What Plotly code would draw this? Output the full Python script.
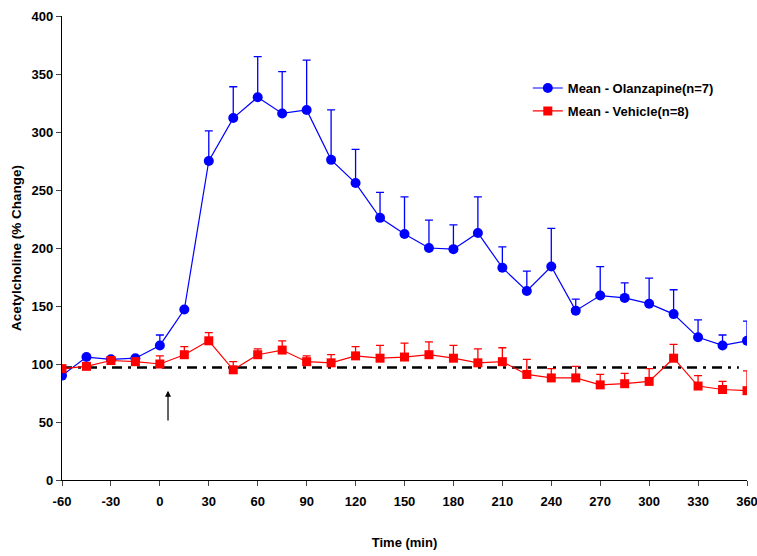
import plotly.graph_objects as go

time = [-60, -45, -30, -15, 0, 15, 30, 45, 60, 75, 90, 105, 120, 135, 150, 165, 180,
        195, 210, 225, 240, 255, 270, 285, 300, 315, 330, 345, 360]

olz_mean = [90, 106, 104, 105, 116, 147, 275, 312, 330, 316, 319, 276, 256, 226, 212, 200, 199,
            213, 183, 163, 184, 146, 159, 157, 152, 143, 123, 116, 120]
olz_err = [0, 0, 0, 0, 9, 0, 26, 27, 35, 36, 43, 43, 29, 22, 32, 24, 21,
           31, 18, 17, 33, 10, 25, 13, 22, 21, 15, 9, 17]

veh_mean = [96, 98, 103, 102, 100, 108, 120, 95, 108, 112, 102, 101, 107, 105, 106, 108, 105,
            101, 102, 91, 88, 88, 82, 83, 85, 105, 81, 78, 77]
veh_err = [0, 0, 0, 0, 7, 7, 7, 7, 5, 8, 5, 7, 8, 11, 12, 11, 11,
           12, 12, 13, 8, 10, 9, 9, 11, 12, 9, 7, 17]

baseline_x = [-60, 355]
baseline_y = [97, 97]

arrow_x = 5
arrow_tail_y = 50
arrow_head_y = 77

x_ticks = list(range(-60, 361, 30))
x_tick_labels = [str(v) for v in x_ticks]  # plain hyphen minus, as in the original
y_ticks = list(range(0, 401, 50))

FONT = "Arial, Liberation Sans, sans-serif"

fig = go.Figure()

fig.add_trace(go.Scatter(
    x=baseline_x, y=baseline_y, mode="lines", showlegend=False, hoverinfo="skip",
    line=dict(color="black", width=2.5, dash="10px,6px,3px,6px"),
))

fig.add_trace(go.Scatter(
    x=time, y=olz_mean, mode="lines+markers", name="Mean - Olanzapine(n=7)",
    legendgroup="olz",
    line=dict(color="#0000FF", width=1.2),
    marker=dict(symbol="circle", size=10, color="#0000FF"),
    error_y=dict(type="data", array=olz_err, arrayminus=[0] * len(olz_err),
                 color="#0000FF", thickness=1.3, width=4),
))

fig.add_trace(go.Scatter(
    x=time, y=veh_mean, mode="lines+markers", name="Mean - Vehicle(n=8)",
    legendgroup="veh",
    line=dict(color="#FF0000", width=1.2),
    marker=dict(symbol="square", size=9, color="#FF0000"),
    error_y=dict(type="data", array=veh_err, arrayminus=[0] * len(veh_err),
                 color="#FF0000", thickness=1.3, width=4),
))

fig.add_annotation(
    x=arrow_x, y=arrow_head_y, ax=arrow_x, ay=arrow_tail_y,
    xref="x", yref="y", axref="x", ayref="y",
    text="", showarrow=True, arrowhead=2, arrowsize=1, arrowwidth=1.2, arrowcolor="black",
)

fig.update_layout(
    width=757, height=556,
    margin=dict(l=62, r=10, t=16, b=76),
    paper_bgcolor="white", plot_bgcolor="white",
    font=dict(family=FONT, size=13, color="black", weight="bold"),
    legend=dict(x=0.68, y=0.877, xanchor="left", yanchor="top",
                bgcolor="rgba(0,0,0,0)", font=dict(size=13, weight="bold"),
                tracegroupgap=3),
    xaxis=dict(range=[-60, 360], tickvals=x_ticks, ticktext=x_tick_labels,
               ticks="outside", ticklen=5, automargin=False, ticklabelstandoff=4,
               ticklabeloverflow="allow",
               showline=True, linecolor="black", linewidth=1.2, showgrid=False, zeroline=False,
               tickfont=dict(size=13, weight="bold"),
               title=dict(text="Time (min)", standoff=30, font=dict(size=13, weight="bold"))),
    yaxis=dict(range=[0, 400], tickvals=y_ticks, ticks="outside", ticklen=5, automargin=False,
               ticklabeloverflow="allow",
               showline=True, linecolor="black", linewidth=1.2, showgrid=False, zeroline=False,
               tickfont=dict(size=13, weight="bold"),
               title=dict(text="Acetylcholine (% Change)", standoff=6,
                          font=dict(size=13.5, weight="bold"))),
)

fig.write_html("out.html")
